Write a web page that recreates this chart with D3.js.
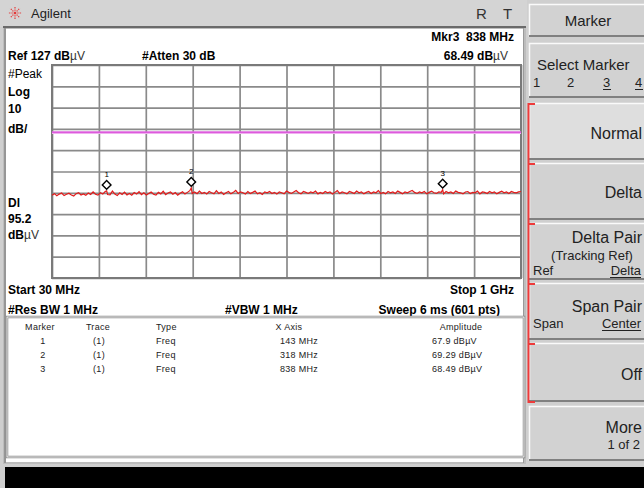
<!DOCTYPE html>
<html><head><meta charset="utf-8">
<script src="https://cdn.jsdelivr.net/npm/d3@7"></script>
<style>
html,body{margin:0;padding:0;background:#cfcfcf;overflow:hidden}
svg{display:block;font-family:"Liberation Sans",Arial,sans-serif}
</style></head>
<body>
<svg id="c" width="644" height="488"></svg>
<script>
// ---------------- data ----------------
const startMHz = 30, stopMHz = 1000;
const refLevel = 127, dbPerDiv = 10, nDivX = 10, nDivY = 10;
const displayLine = 95.2;
// trace amplitude (dBµV), evenly spaced across the sweep
const traceValues = [
 65.8,66.6,65.6,66.4,66.9,65.7,66.3,66.8,66.0,65.5,66.6,67.1,66.0,66.5,65.8,66.9,66.2,67.4,66.3,65.9,67.0,66.4,67.6,66.2,
 66.0,67.8,66.4,65.7,67.0,66.2,67.3,66.0,66.7,65.9,67.1,66.4,67.5,66.1,67.0,66.0,66.7,67.4,66.3,65.9,67.2,66.5,67.7,66.1,66.9,67.4,66.3,67.1,65.9,66.8,67.5,66.4,67.2,68.0,66.7,
 67.4,66.6,67.8,66.7,67.2,66.4,67.6,67.0,66.5,68.0,
 66.7,67.4,66.2,67.0,67.6,66.5,67.2,68.1,66.7,67.4,
 67.0,66.4,67.6,66.7,67.2,67.8,66.5,67.0,66.2,67.4,
 67.0,67.6,66.7,67.2,66.4,67.4,67.0,66.5,67.8,67.2,
 66.7,67.4,68.1,67.0,66.5,67.6,67.2,66.7,67.4,67.0,
 67.8,66.5,67.2,66.7,67.6,67.0,67.4,66.4,67.2,68.0,
 66.7,67.4,67.0,66.5,67.6,67.2,66.7,67.8,67.0,67.4,
 66.5,67.2,67.6,66.7,67.4,67.0,68.0,66.7,67.2,66.5,
 67.6,67.0,67.4,66.7,67.8,67.2,66.5,67.4,67.0,67.6,
 68.1,67.2,66.7,67.4,67.0,67.6,66.5,67.2,67.8,67.0,
 66.7,67.4,67.2,66.5,67.6,67.0,67.4,66.7,67.8,67.2,
 67.0,66.5,67.4,67.6,66.7,67.2,67.0,67.8,66.5,67.4,
 67.2,66.7,67.6,67.0,67.4,66.5,67.2,67.8,67.0,67.4,
 66.7,67.6,67.2,67.0,67.4,67.6
];
const markerIds = ["1","2","3"];
const markerFreqMHz = [143, 318, 838];
const markerAmp = [67.9, 69.29, 68.49];
const markerAmpText = ["67.9 dBµV","69.29 dBµV","68.49 dBµV"];
const tableHeaders = ["Marker","Trace","Type","X Axis","Amplitude"];
const softkeyLabels = ["Normal","Delta","Delta Pair","Span Pair","Off","More"];

// ---------------- setup ----------------
const svg = d3.select("#c");
const P = {l:52, r:521, t:65, b:278};
const x = d3.scaleLinear().domain([startMHz, stopMHz]).range([P.l, P.r]);
const y = d3.scaleLinear().domain([refLevel - dbPerDiv*nDivY, refLevel]).range([P.b, P.t]);

// ---------------- frames ----------------
svg.append("rect").attr("x",0).attr("y",0).attr("width",644).attr("height",488).attr("fill","#cfcfcf");
svg.append("rect").attr("x",0).attr("y",0).attr("width",527).attr("height",27).attr("fill","#d4d4d4");
svg.append("line").attr("x1",3).attr("x2",526).attr("y1",27).attr("y2",27).attr("stroke","#6a6a6a").attr("stroke-width",2);
svg.append("rect").attr("x",3).attr("y",28).attr("width",523).attr("height",436).attr("fill","#bdbdbd");
svg.append("rect").attr("x",6).attr("y",29).attr("width",517).attr("height",433).attr("fill","#ffffff");
svg.append("line").attr("x1",5).attr("x2",5).attr("y1",28).attr("y2",463).attr("stroke","#707070").attr("stroke-width",1);
svg.append("line").attr("x1",523.5).attr("x2",523.5).attr("y1",28).attr("y2",463).attr("stroke","#9a9a9a").attr("stroke-width",1);
svg.append("rect").attr("x",5).attr("y",467).attr("width",639).attr("height",21).attr("fill","#000");

// logo
const logo = svg.append("g").attr("transform","translate(15,13)");
d3.range(8).forEach(k=>{
  const a = k*Math.PI/4;
  logo.append("line").attr("x1",0).attr("y1",0).attr("x2",7*Math.cos(a)).attr("y2",7*Math.sin(a))
    .attr("stroke","#e43b3b").attr("stroke-width",1.2).attr("stroke-dasharray","1.3,1");
});
svg.append("text").attr("x",31).attr("y",18).attr("font-size",13).attr("fill","#222").text("Agilent");
svg.append("text").attr("x",476).attr("y",19).attr("font-size",15).attr("fill","#333").text("R");
svg.append("text").attr("x",503).attr("y",19).attr("font-size",15).attr("fill","#333").text("T");

// ---------------- annotation texts ----------------
function bt(tx, ty, parts, anchor){
  const t = svg.append("text").attr("x",tx).attr("y",ty).attr("font-size",12).attr("font-weight","bold")
    .attr("fill","#000").attr("text-anchor",anchor||"start").style("white-space","pre");
  parts.forEach(p=>{
    const s = t.append("tspan").text(p[0]);
    if(p[1]) s.attr("font-weight","normal").attr("fill","#333");
  });
  return t;
}
bt(514,41,[["Mkr3  838 MHz"]],"end");
bt(8,60,[["Ref 127 dB"],["µV",1]]);
bt(142,60,[["#Atten 30 dB"]]);
bt(508,60,[["68.49 dB"],["µV",1]],"end");
svg.append("text").attr("x",8).attr("y",78).attr("font-size",12).attr("fill","#000").text("#Peak");
bt(8,96,[["Log"]]);
bt(8,113,[["10"]]);
bt(8,133,[["dB/"]]);
bt(8,207,[["Dl"]]);
bt(8,223,[["95.2"]]);
bt(8,239,[["dB"],["µV",1]]);
bt(8,294,[["Start 30 MHz"]]);
bt(514,294,[["Stop 1 GHz"]],"end");
bt(8,314,[["#Res BW 1 MHz"]]);
bt(225,314,[["#VBW 1 MHz"]]);
bt(500,314,[["Sweep 6 ms (601 pts)"]],"end");

// ---------------- grid ----------------
const gx = svg.append("g").attr("transform",`translate(0,${P.b})`)
  .call(d3.axisBottom(x).tickValues(d3.range(nDivX+1).map(k=>startMHz + k*(stopMHz-startMHz)/nDivX))
    .tickSize(-(P.b-P.t)).tickFormat(""));
const gy = svg.append("g").attr("transform",`translate(${P.l},0)`)
  .call(d3.axisLeft(y).tickValues(d3.range(nDivY+1).map(k=>refLevel - k*dbPerDiv))
    .tickSize(-(P.r-P.l)).tickFormat(""));
[gx,gy].forEach(g=>{
  g.select(".domain").remove();
  g.selectAll(".tick line").attr("stroke","#8a8a8a").attr("stroke-width",1.7);
});
svg.append("rect").attr("x",P.l).attr("y",P.t).attr("width",P.r-P.l).attr("height",P.b-P.t)
  .attr("fill","none").attr("stroke","#7a7a7a").attr("stroke-width",2);

// display line
svg.append("line").attr("x1",P.l).attr("x2",P.r).attr("y1",y(displayLine)).attr("y2",y(displayLine))
  .attr("stroke","#f0b0f0").attr("stroke-width",2.4);
svg.append("line").attr("x1",P.l).attr("x2",P.r).attr("y1",y(displayLine)-0.6).attr("y2",y(displayLine)-0.6)
  .attr("stroke","#d63fd6").attr("stroke-width",1.2);

// ---------------- trace ----------------
const step = (stopMHz-startMHz)/(traceValues.length-1);
let pts = traceValues.map((v,i)=>({f:startMHz+i*step, a:v}));
markerFreqMHz.forEach((f,i)=>pts.push({f:f, a:markerAmp[i]}));
pts.sort((a,b)=>a.f-b.f);
svg.append("path").datum(pts)
  .attr("d", d3.line().x(d=>x(d.f)).y(d=>y(d.a)))
  .attr("fill","none").attr("stroke","#e31b1b").attr("stroke-width",1.2);

// ---------------- markers ----------------
const mk = svg.append("g");
markerFreqMHz.forEach((f,i)=>{
  const cx = x(f), cy = y(markerAmp[i]) - 6;
  mk.append("path").attr("d", d3.symbol(d3.symbolSquare, 38)())
    .attr("transform",`translate(${cx},${cy}) rotate(45)`)
    .attr("fill","#fff").attr("stroke","#000").attr("stroke-width",1.4);
  mk.append("text").attr("x",cx).attr("y",cy-8).attr("text-anchor","middle")
    .attr("font-size",8).attr("fill","#000").text(markerIds[i]);
});

// ---------------- marker table ----------------
svg.append("rect").attr("x",7).attr("y",317).attr("width",517).attr("height",140)
  .attr("fill","#fff").attr("stroke","#8a8a8a").attr("stroke-width",2.5);
svg.append("rect").attr("x",7).attr("y",317).attr("width",517).attr("height",140)
  .attr("fill","none").attr("stroke","#fff").attr("stroke-width",0.8);
const colX = [40, 98, 156, 289, 461];
const colAnchor = ["middle","middle","start","middle","middle"];
const tbl = svg.append("g").attr("font-size",9).attr("fill","#222").attr("letter-spacing",0.3);
tableHeaders.forEach((h,j)=>{
  tbl.append("text").attr("x",colX[j]).attr("y",330).attr("text-anchor",colAnchor[j]).text(h);
});
markerIds.forEach((id,i)=>{
  const ry = 344 + i*14;
  tbl.append("text").attr("x",43).attr("y",ry).attr("text-anchor","middle").text(id);
  tbl.append("text").attr("x",99).attr("y",ry).attr("text-anchor","middle").text("(1)");
  tbl.append("text").attr("x",156).attr("y",ry).text("Freq");
  tbl.append("text").attr("x",299).attr("y",ry).attr("text-anchor","middle").text(markerFreqMHz[i]+" MHz");
  tbl.append("text").attr("x",432).attr("y",ry).text(markerAmpText[i]);
});

// ---------------- softkey panel ----------------
const sk = svg.append("g");
function button(y0, y1, fill){
  sk.append("rect").attr("x",529).attr("y",y0).attr("width",120).attr("height",y1-y0).attr("fill",fill||"#d2d2d2");
  sk.append("path").attr("d",`M529.5,${y1}V${y0+0.5}H644`).attr("fill","none").attr("stroke","#fafafa").attr("stroke-width",1.5);
  sk.append("line").attr("x1",529).attr("x2",644).attr("y1",y1-1).attr("y2",y1-1).attr("stroke","#808080").attr("stroke-width",2);
}
button(4,37);
button(43,98);
const keyY = [[103,160],[163,220],[223,280],[283,340],[343,402],[406,461]];
keyY.forEach((k,i)=>button(k[0],k[1], i===0 ? "#dedede" : "#d2d2d2"));

const st = (tx,ty,txt,size,anchor)=>sk.append("text").attr("x",tx).attr("y",ty).attr("font-size",size)
  .attr("fill","#222").attr("text-anchor",anchor||"start").text(txt);
st(588,26,"Marker",15,"middle");
st(537,70,"Select Marker",15);
st(533,87,"1",13); st(567,87,"2",13); st(603,87,"3",13); st(635,87,"4",13);
sk.append("line").attr("x1",603).attr("x2",611).attr("y1",89.5).attr("y2",89.5).attr("stroke","#222");
sk.append("line").attr("x1",635).attr("x2",643).attr("y1",89.5).attr("y2",89.5).attr("stroke","#222");

st(642,139,softkeyLabels[0],16,"end");
st(642,198,softkeyLabels[1],16,"end");
st(642,243,softkeyLabels[2],16,"end");
st(592,260,"(Tracking Ref)",13,"middle");
st(533,275,"Ref",13);
st(641,275,"Delta",13,"end");
sk.append("line").attr("x1",610).attr("x2",641).attr("y1",277.5).attr("y2",277.5).attr("stroke","#222");
st(642,312,softkeyLabels[3],16,"end");
st(533,328,"Span",13);
st(641,328,"Center",13,"end");
sk.append("line").attr("x1",602).attr("x2",641).attr("y1",330.5).attr("y2",330.5).attr("stroke","#222");
st(642,380,softkeyLabels[4],16,"end");
st(642,433,softkeyLabels[5],16,"end");
st(640,449,"1 of 2",13,"end");

// red bracket
const red = sk.append("g").attr("stroke","#ee3b3b").attr("stroke-width",2).attr("fill","none");
red.append("line").attr("x1",528.5).attr("x2",528.5).attr("y1",103).attr("y2",403);
[103,163,223,283,343].forEach(v=>red.append("line").attr("x1",528).attr("x2",535).attr("y1",v+1).attr("y2",v+1));
red.append("line").attr("x1",528).attr("x2",535).attr("y1",402).attr("y2",402);
</script>
</body></html>
